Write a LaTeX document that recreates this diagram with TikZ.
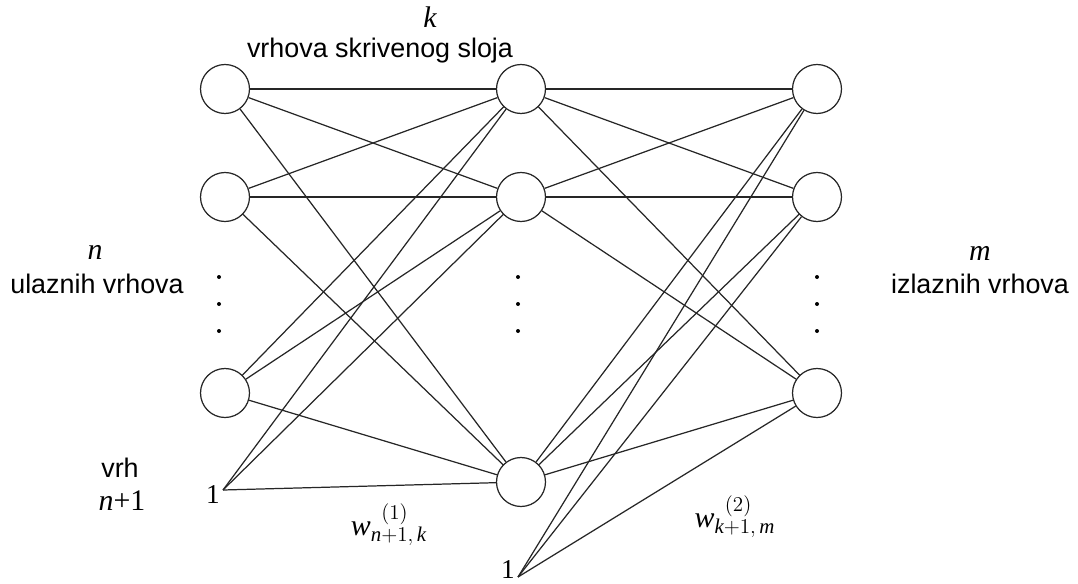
\documentclass[tikz,border=0pt]{standalone}
\usepackage{fontspec}
\setmainfont{Liberation Serif}
\setsansfont{Liberation Sans}
\usetikzlibrary{positioning}

\def\layersep{296}

\begin{document}
\begin{tikzpicture}[x=0.02cm,y=-0.02cm,draw=black!85,line width=0.7pt]
    \tikzstyle{neuron}=[circle,draw=black!85,fill=white,minimum size=0.98cm,inner sep=0pt]
    \tikzstyle{annot}=[font=\sffamily\fontsize{15.3}{17}\selectfont,inner sep=0pt,anchor=base]
    \tikzstyle{count}=[font=\fontsize{17}{19}\selectfont\itshape,inner sep=0pt,anchor=base]
    \tikzstyle{bias}=[font=\fontsize{15.5}{17}\selectfont,inner sep=0pt,anchor=base]
    \tikzstyle{weight}=[font=\fontsize{17}{19}\selectfont,inner sep=0pt,anchor=base]
    \tikzstyle{dot}=[circle,fill=black,inner sep=0pt,minimum size=0.08cm]

    \useasboundingbox (0,0) rectangle (1078,584);

    % Draw the input layer nodes
    \foreach \name / \y in {1/89,2/197,3/393}
        \node[neuron] (I-\name) at (225,\y) {};

    % Draw the hidden layer nodes
    \foreach \name / \y in {1/89,2/197,3/482}
        \node[neuron] (H-\name) at ({225+\layersep},\y) {};

    % Draw the output layer nodes
    \foreach \name / \y in {1/89,2/197,3/393}
        \node[neuron] (O-\name) at ({225+2*\layersep},\y) {};

    % The dots between the nodes
    \foreach \y in {277,304,331} {
        \node[dot] at (219,\y) {};
        \node[dot] at (518,\y) {};
        \node[dot] at (817,\y) {};
    }

    % Bias inputs
    \coordinate (B-1) at (223,490);
    \coordinate (B-2) at (518,577);
    \node[bias] (one-1) at (213,503) {1};
    \node[bias] (one-2) at (508,578) {1};

    % Connect every node in the input layer with every node in the
    % hidden layer, and the bias too.
    \foreach \source in {1,...,3}
        \foreach \dest in {1,...,3}
            \path (I-\source) edge (H-\dest);
    \foreach \dest in {1,...,3}
        \path (B-1) edge (H-\dest);

    % Connect every node in the hidden layer with the output layer
    \foreach \source in {1,...,3}
        \foreach \dest in {1,...,3}
            \path (H-\source) edge (O-\dest);
    \foreach \dest in {1,...,3}
        \path (B-2) edge (O-\dest);

    % Annotate the layers
    \node[count] (k) at (430,28) {k};
    \node[annot] (hl) at (380,58) {vrhova skrivenog sloja};
    \node[count] (n) at (95,259) {n};
    \node[annot] (il) at (97,293) {ulaznih vrhova};
    \node[count] (m) at (980,260) {m};
    \node[annot] (ol) at (980,293) {izlaznih vrhova};
    \node[annot] (vrh) at (120,477) {vrh};
    \node[weight] (np1) at (122,510) {\textit{n}+1};

    % Weights
    \node[weight] (w-1) at (389,535) {$\mathit{w}^{\hspace{0.35em}(1)}_{\mathit{n}+1,\,\mathit{k}}$};
    \node[weight] (w-2) at (735,527) {$\mathit{w}^{\hspace{0.35em}(2)}_{\mathit{k}+1,\,\mathit{m}}$};
\end{tikzpicture}
\end{document}
